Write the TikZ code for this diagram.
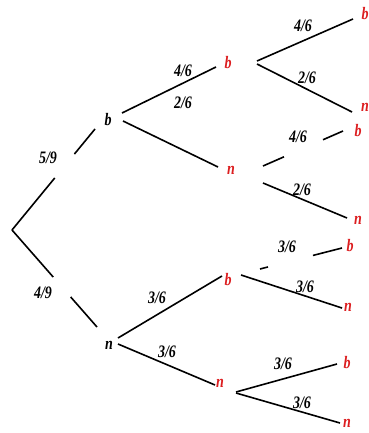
\documentclass[tikz,border=0pt]{standalone}
\usepackage{fontspec}
\setmainfont{Liberation Serif}
\usetikzlibrary{calc}
\definecolor{tred}{RGB}{220,30,32}
\newcommand{\lbl}[1]{\scalebox{0.8}[1]{\fontsize{17.5}{17.5}\selectfont\bfseries\itshape #1}}
\begin{document}
\begin{tikzpicture}[x=1pt,y=-1pt,
  br/.style={line width=1.6pt,line cap=butt},
  lab/.style={inner sep=0pt},
  rlab/.style={inner sep=0pt,text=tred}]
\useasboundingbox (0,0) rectangle (368,433);
% vertices
\coordinate (root) at (12,230);
\node[lab]  (b1)  at (108,120) {\lbl{b}};
\node[lab]  (n1)  at (109,345) {\lbl{n}};
\node[rlab] (bb)  at (228,63)  {\lbl{b}};
\node[rlab] (bn)  at (231,170) {\lbl{n}};
\node[rlab] (nb)  at (228,280) {\lbl{b}};
\node[rlab] (nn)  at (220,383) {\lbl{n}};
\node[rlab] (bbb) at (365,14)  {\lbl{b}};
\node[rlab] (bbn) at (365,107) {\lbl{n}};
\node[rlab] (bnb) at (358,131) {\lbl{b}};
\node[rlab] (bnn) at (358,220) {\lbl{n}};
\node[rlab] (nbb) at (350,246) {\lbl{b}};
\node[rlab] (nbn) at (348,307) {\lbl{n}};
\node[rlab] (nnb) at (347,363) {\lbl{b}};
\node[rlab] (nnn) at (347,423) {\lbl{n}};
% probabilities
\node[lab] (p1)  at (48,158)  {\lbl{5/9}};
\node[lab] (p2)  at (43,293)  {\lbl{4/9}};
\node[lab] (p3)  at (183,71)  {\lbl{4/6}};
\node[lab] (p4)  at (183,103) {\lbl{2/6}};
\node[lab] (p5)  at (303,26)  {\lbl{4/6}};
\node[lab] (p6)  at (307,78)  {\lbl{2/6}};
\node[lab] (p7)  at (298,137) {\lbl{4/6}};
\node[lab] (p8)  at (302,190) {\lbl{2/6}};
\node[lab] (p9)  at (157,298) {\lbl{3/6}};
\node[lab] (p10) at (167,352) {\lbl{3/6}};
\node[lab] (p11) at (287,247) {\lbl{3/6}};
\node[lab] (p12) at (305,287) {\lbl{3/6}};
\node[lab] (p13) at (283,364) {\lbl{3/6}};
\node[lab] (p14) at (302,403) {\lbl{3/6}};
% connector ends
\coordinate (e1) at ($(b1)+(-13,9)$);
\coordinate (e2) at ($(n1)+(-12,-18)$);
\coordinate (s7) at ($(bn)+(32,-4)$);
\coordinate (e7) at ($(bnb)+(-15,0)$);
\coordinate (s11) at ($(nb)+(32,-11)$);
\coordinate (e11) at ($(nbb)+(-8,2)$);
% connectors
\draw[br] (root) -- ($(root)!.515!(e1)$) ($(root)!.752!(e1)$) -- (e1);
\draw[br] (root) -- ($(root)!.485!(e2)$) ($(root)!.69!(e2)$) -- (e2);
\draw[br] ($(b1)+(14,-7)$) -- ($(bb)+(-12,4)$);
\draw[br] ($(b1)+(15,1)$) -- ($(bn)+(-13,-3)$);
\draw[br] ($(bb)+(29,-2)$) -- ($(bbb)+(-12,5)$);
\draw[br] ($(bb)+(29,1)$) -- ($(bbn)+(-13,5)$);
\draw[br] (s7) -- ($(s7)!.2625!(e7)$) ($(s7)!.75!(e7)$) -- (e7);
\draw[br] ($(bn)+(32,13)$) -- ($(bnn)+(-11,-2)$);
\draw[br] ($(n1)+(9,-7)$) -- ($(nb)+(-6,-4)$);
\draw[br] ($(n1)+(9,-1)$) -- ($(nn)+(-5,2)$);
\draw[br] (s11) -- ($(s11)!.098!(e11)$) ($(s11)!.646!(e11)$) -- (e11);
\draw[br] ($(nb)+(13,-5)$) -- ($(nbn)+(-6,1)$);
\draw[br] ($(nn)+(16,9)$) -- ($(nnb)+(-10,1)$);
\draw[br] ($(nn)+(16,10)$) -- ($(nnn)+(-7,0)$);
\end{tikzpicture}
\end{document}
